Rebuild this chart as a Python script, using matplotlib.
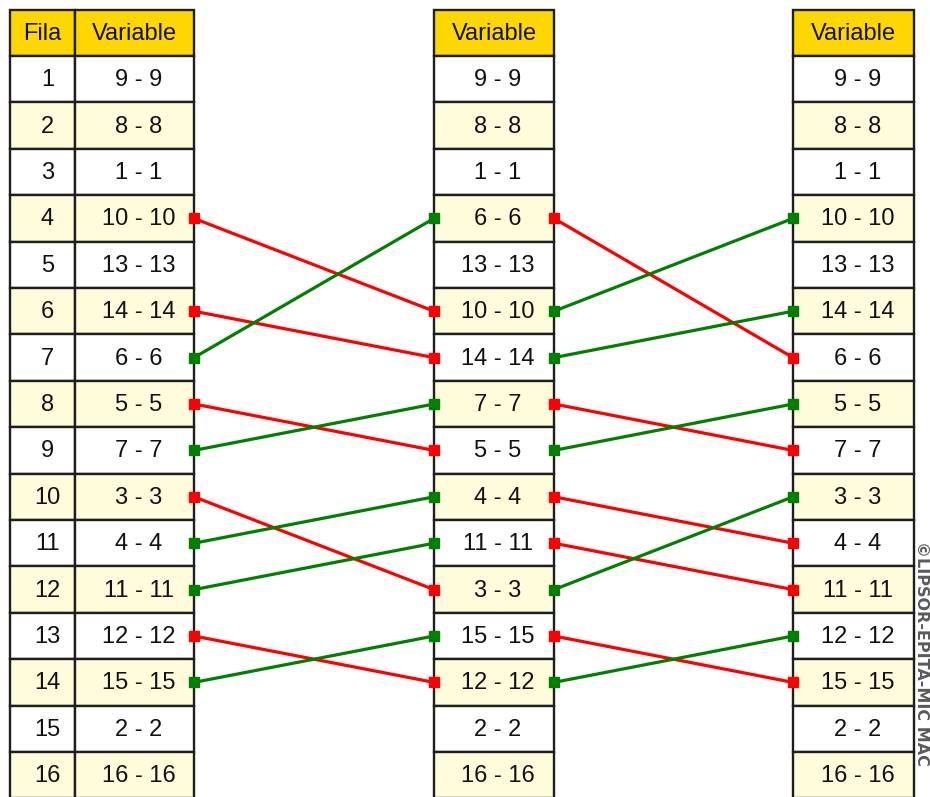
import matplotlib
matplotlib.use("Agg")
import matplotlib.pyplot as plt
from matplotlib.patches import Rectangle

# Data: rankings (variable numbers) in each column, top to bottom
fila = list(range(1, 17))
col1_vars = [9, 8, 1, 10, 13, 14, 6, 5, 7, 3, 4, 11, 12, 15, 2, 16]
col2_vars = [9, 8, 1, 6, 13, 10, 14, 7, 5, 4, 11, 3, 15, 12, 2, 16]
col3_vars = [9, 8, 1, 10, 13, 14, 6, 5, 7, 3, 4, 11, 12, 15, 2, 16]
header_fila = "Fila"
header_var = "Variable"
watermark = "©LIPSOR-EPITA-MIC MAC"

W, H = 930, 797
fig = plt.figure(figsize=(W / 100, H / 100), dpi=100)
ax = fig.add_axes([0, 0, 1, 1])
ax.set_xlim(0, W)
ax.set_ylim(H, 0)
ax.axis("off")

fam = ["Liberation Sans", "DejaVu Sans"]
fs = 17

top = 10
row_h = 46.4
head_h = 46
edge = "#1e1e1e"
gold = "#FFD700"
cream = "#FFFCDC"

def row_top(i):
    return top + head_h + i * row_h

def cell(x0, x1, y0, h, fc, text, dx=0):
    ax.add_patch(Rectangle((x0, y0), x1 - x0, h, facecolor=fc, edgecolor=edge,
                           linewidth=1.7, zorder=1))
    ax.text((x0 + x1) / 2 + dx, y0 + h / 2 + 1, text, ha="center", va="center",
            fontsize=fs, family=fam, color="#111111", zorder=2)

def var_column(x0, x1, order):
    cell(x0, x1, top, head_h, gold, header_var)
    for i, v in enumerate(order):
        fc = "white" if i % 2 == 0 else cream
        cell(x0, x1, row_top(i), row_h, fc, f"{v} - {v}", dx=4)

# column 1 with Fila
cell(10, 75, top, head_h, gold, header_fila)
for i, f in enumerate(fila):
    fc = "white" if i % 2 == 0 else cream
    cell(10, 75, row_top(i), row_h, fc, str(f), dx=5)
var_column(75, 194, col1_vars)
var_column(434, 554, col2_vars)
var_column(793, 914, col3_vars)

def connect(xa, xb, order_a, order_b):
    for ia, v in enumerate(order_a):
        ib = order_b.index(v)
        if ia == ib:
            continue
        color = "#FF0000" if ib > ia else "#008000"
        ya = row_top(ia) + row_h / 2
        yb = row_top(ib) + row_h / 2
        ax.plot([xa, xb], [ya, yb], color=color, linewidth=2.3, zorder=3,
                marker="s", markersize=6.5, solid_capstyle="butt")

connect(194, 434, col1_vars, col2_vars)
connect(554, 793, col2_vars, col3_vars)

ax.text(921.5, 541, watermark, rotation=270, ha="center", va="top", fontsize=11.5,
        fontweight="bold", color="#5a5a5a", family=["DejaVu Sans"], zorder=2)

fig.savefig("out.png", dpi=100)
